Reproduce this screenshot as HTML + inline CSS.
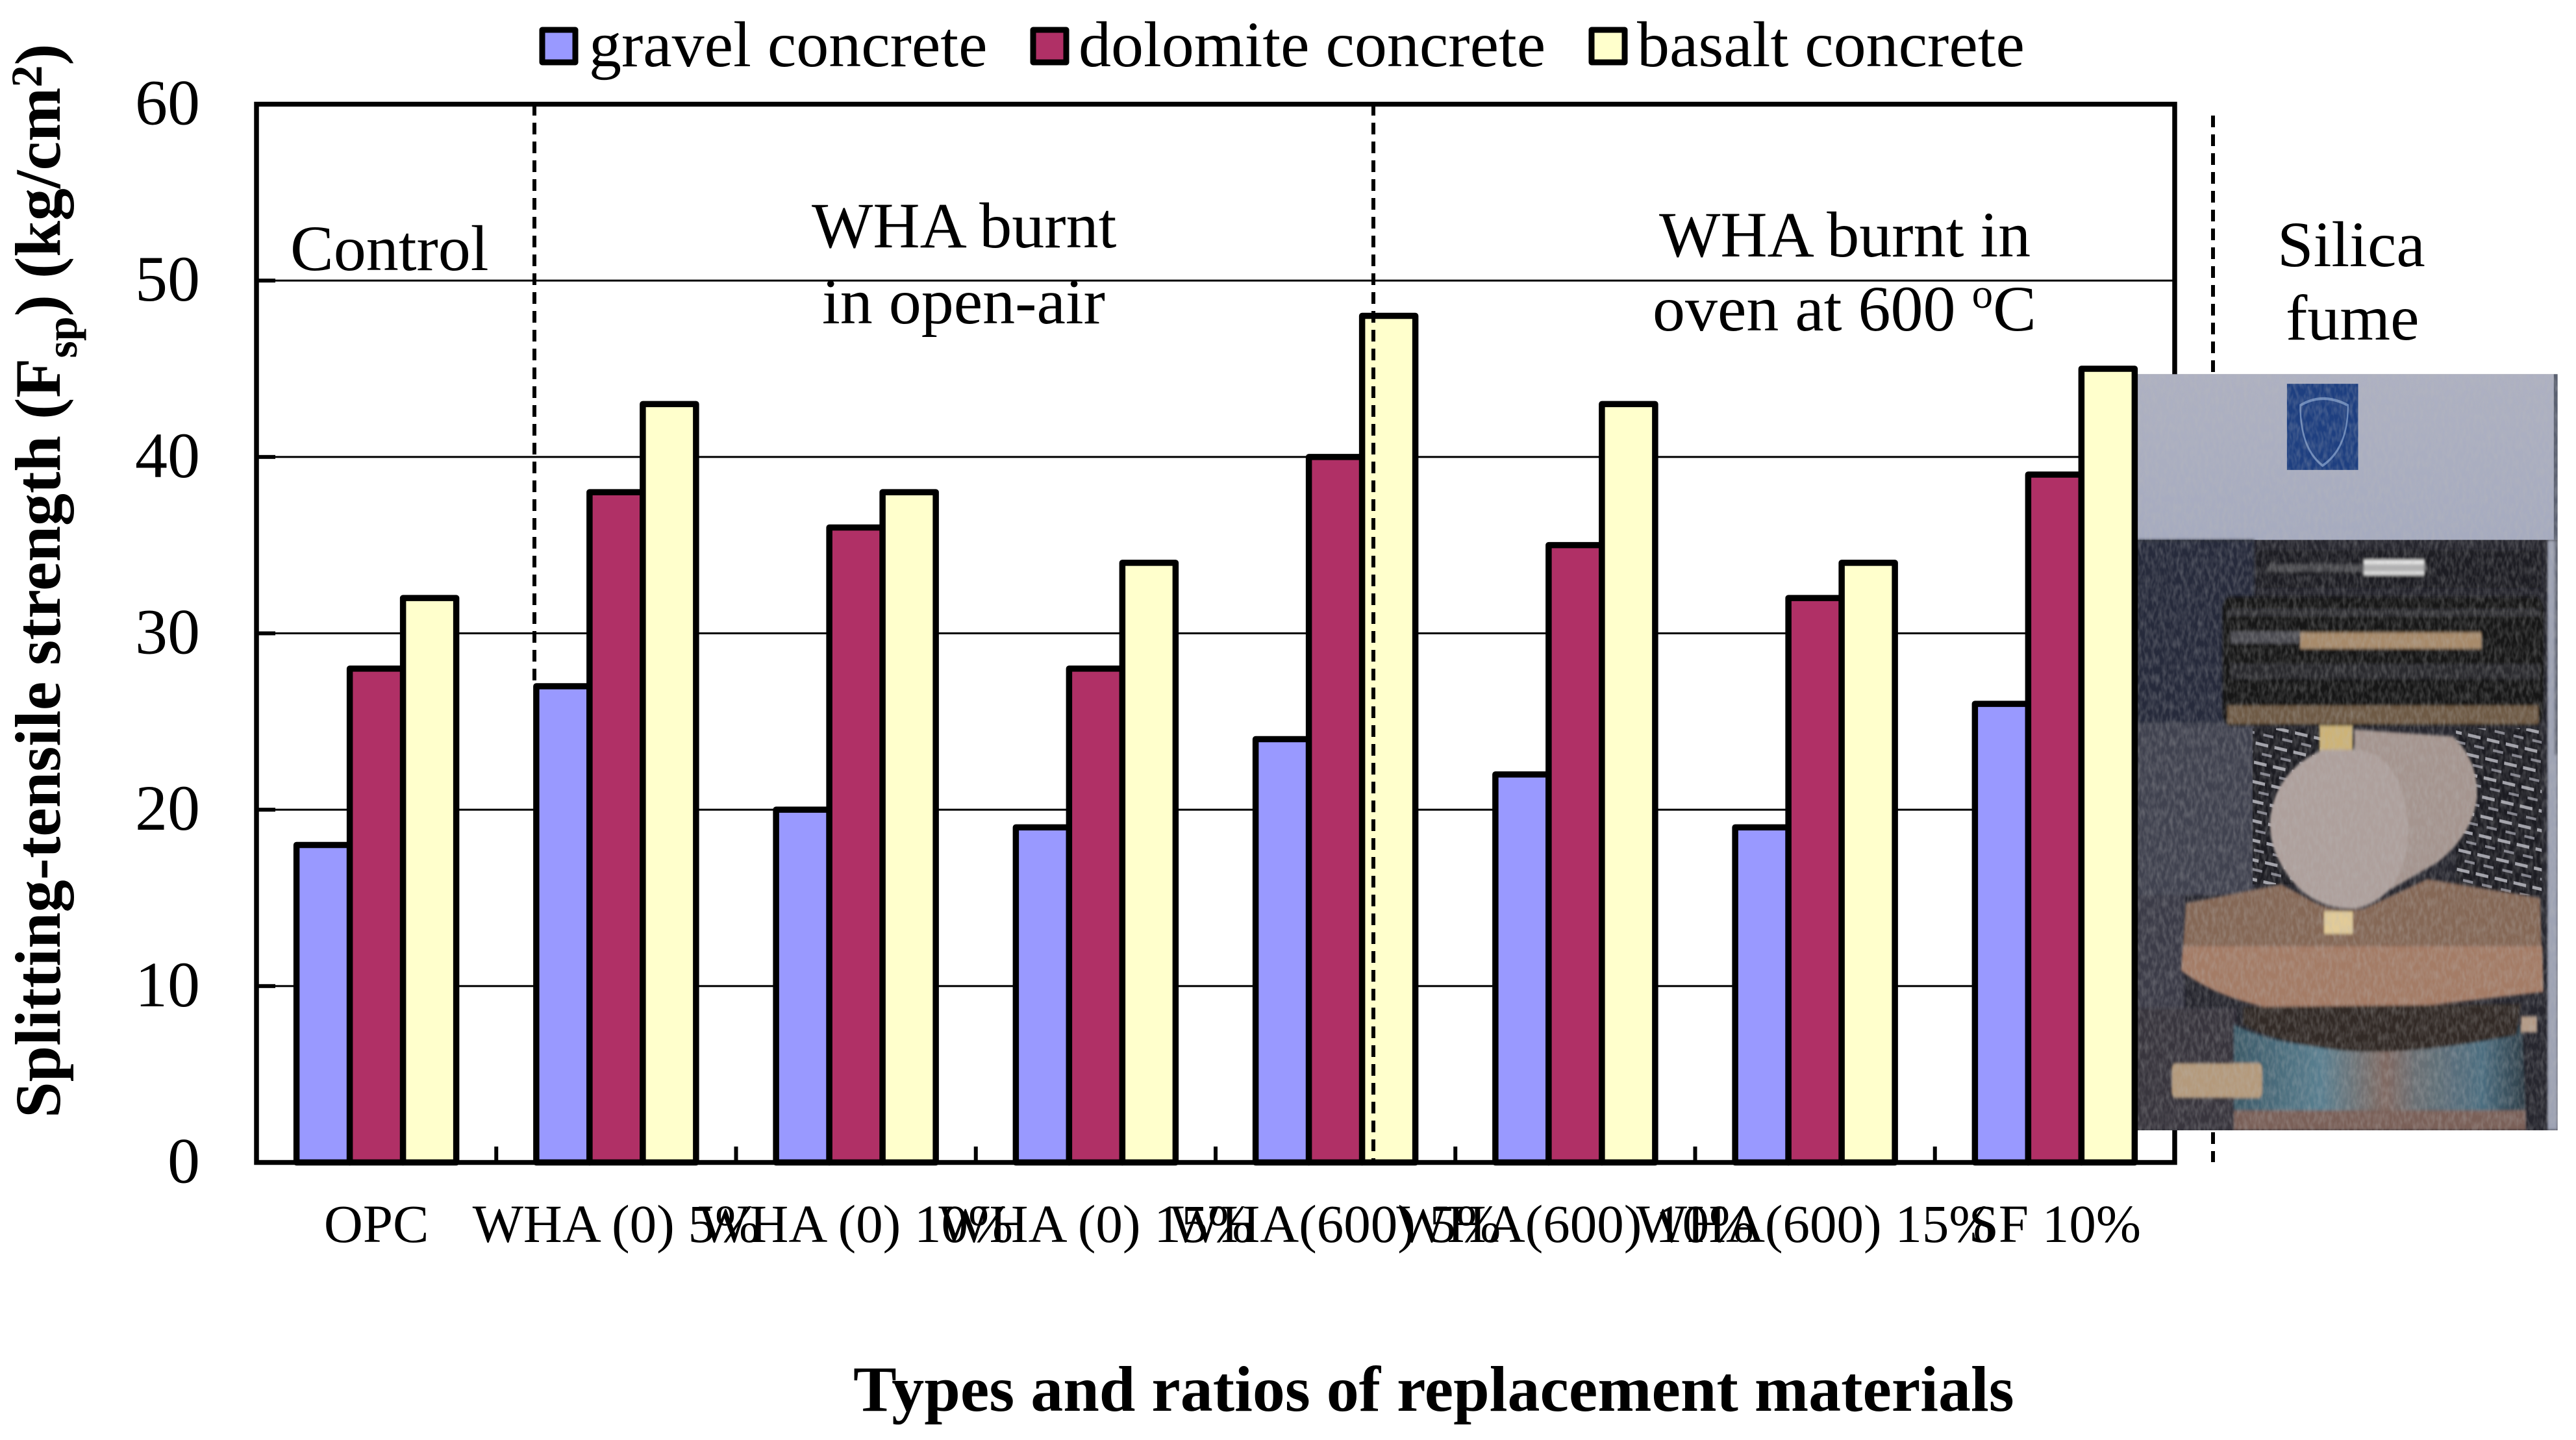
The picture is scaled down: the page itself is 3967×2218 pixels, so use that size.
<!DOCTYPE html>
<html lang="en">
<head>
<meta charset="utf-8">
<title>Splitting-tensile strength chart</title>
<style>
html,body{margin:0;padding:0;background:#fff;}
svg{display:block;}
text{font-family:"Liberation Serif","Times New Roman",serif;fill:#000;}
</style>
</head>
<body>
<svg id="chart" xmlns="http://www.w3.org/2000/svg" width="3967" height="2218" viewBox="0 0 3967 2218">
  <defs>
    <pattern id="mesh" width="60" height="36" patternUnits="userSpaceOnUse" patternTransform="rotate(8)">
      <rect width="60" height="36" fill="#1c1c22"/>
      <rect x="2" y="5" width="40" height="6" fill="#a2a2aa"/>
      <rect x="24" y="23" width="32" height="5" fill="#82828c"/>
    </pattern>
    <linearGradient id="panelGrad" x1="0" y1="0" x2="0" y2="1">
      <stop offset="0" stop-color="#aeb1c2"/>
      <stop offset="1" stop-color="#a6abbf"/>
    </linearGradient>
    <linearGradient id="drumGrad" x1="0" y1="0" x2="1" y2="0">
      <stop offset="0" stop-color="#3c5a68"/>
      <stop offset="0.3" stop-color="#5a7f90"/>
      <stop offset="0.52" stop-color="#806a62"/>
      <stop offset="0.62" stop-color="#6b6f74"/>
      <stop offset="0.85" stop-color="#4c6e80"/>
      <stop offset="1" stop-color="#2d3c46"/>
    </linearGradient>
    <filter id="soft" x="-5%" y="-5%" width="110%" height="110%"><feGaussianBlur stdDeviation="3"/></filter>
    <filter id="grain" x="0" y="0" width="100%" height="100%">
      <feTurbulence type="fractalNoise" baseFrequency="0.09 0.06" numOctaves="2" seed="7"/>
      <feColorMatrix type="matrix" values="0 0 0 0 0.5  0 0 0 0 0.5  0 0 0 0 0.5  1.6 0 0 0 -0.55"/>
    </filter>
    <clipPath id="photoClip"><rect x="185" y="92" width="1325" height="1405"/></clipPath>
  </defs>

  <g id="grid"></g>
  <rect x="395" y="160.5" width="2954" height="1630" fill="none" stroke="#000" stroke-width="7.5"/>
  <g id="yticks"></g>
  <g id="xticks"></g>

  <line x1="823" y1="160" x2="823" y2="1050" stroke="#000" stroke-width="6" stroke-dasharray="18 11"/>
  <line x1="3408" y1="178" x2="3408" y2="1790" stroke="#000" stroke-width="6" stroke-dasharray="18 11"/>

  <g transform="translate(3200,500) scale(0.4892,0.829)">
    <g clip-path="url(#photoClip)">
      <rect x="185" y="92" width="1325" height="1405" fill="#26262e"/>
      <rect x="185" y="92" width="1325" height="308" fill="url(#panelGrad)"/>
      <rect x="1498" y="92" width="12" height="308" fill="#5a6070"/>
      <rect x="658" y="110" width="224" height="160" fill="#1e3f80"/>
      <path d="M 700 150 Q 770 125 850 150 Q 850 230 770 262 Q 700 230 700 150 Z" fill="none" stroke="#6a88ba" stroke-width="5"/>
      <g filter="url(#soft)">
        <rect x="185" y="400" width="370" height="340" fill="#252b3a"/>
        <rect x="185" y="740" width="370" height="320" fill="#3f4350"/>
        <rect x="185" y="1060" width="150" height="230" fill="#3b3b46"/>
        <rect x="185" y="1270" width="310" height="227" fill="#37353e"/>
        <rect x="1478" y="400" width="32" height="1097" fill="#9ea3b4"/>
        <rect x="1500" y="400" width="10" height="400" fill="#6a6f7e"/>
        <rect x="560" y="420" width="900" height="70" fill="#1a1a20"/>
        <rect x="900" y="437" width="190" height="28" fill="#e8e8e8"/>
        <rect x="600" y="445" width="500" height="14" fill="#77777a" opacity="0.5"/>
      </g>
      <rect x="550" y="750" width="220" height="290" fill="url(#mesh)"/>
      <rect x="1190" y="750" width="270" height="310" fill="url(#mesh)"/>
      <g filter="url(#soft)">
        <rect x="455" y="505" width="1010" height="240" rx="25" fill="#141418"/>
        <rect x="470" y="528" width="985" height="14" fill="#303036"/>
        <rect x="700" y="572" width="570" height="30" fill="#a78a6a"/>
        <rect x="480" y="570" width="220" height="22" fill="#4d4d52"/>
        <rect x="480" y="630" width="975" height="28" fill="#2a2a2f"/>
        <rect x="470" y="708" width="980" height="34" fill="#6e5a44"/>
        <rect x="760" y="745" width="105" height="48" fill="#cdb377"/>
        <path d="M 870 752 L 1180 765 Q 1262 810 1256 880 Q 1240 950 1130 1000 L 880 1085 Q 780 1090 700 1050 Q 600 990 605 920 Q 620 830 770 790 L 870 790 Z" fill="#a5958f"/>
        <path d="M 770 790 Q 620 830 605 920 Q 600 990 700 1050 Q 780 1090 880 1085 Q 1040 1060 1040 930 Q 1020 800 880 790 Z" fill="#aea09c"/>
        <path d="M 340 1075 L 640 1040 L 720 1065 Q 800 1095 900 1085 L 1100 1030 L 1455 1065 L 1460 1165 L 330 1165 Z" fill="#856857"/>
        <path d="M 330 1155 L 1462 1155 L 1465 1240 L 1000 1272 L 620 1272 Q 430 1250 325 1200 Z" fill="#a47c66"/>
        <rect x="775" y="1090" width="90" height="42" fill="#e2cb98"/>
        <path d="M 490 1300 Q 800 1390 1400 1300 L 1410 1497 L 490 1497 Z" fill="url(#drumGrad)"/>
        <path d="M 520 1268 L 1395 1262 L 1380 1320 Q 1000 1365 780 1345 Q 600 1330 520 1300 Z" fill="#332b27"/>
        <rect x="1395" y="1285" width="50" height="30" fill="#b39a85"/>
        <rect x="490" y="1460" width="920" height="37" fill="#7a6058"/>
        <rect x="295" y="1372" width="285" height="65" rx="12" fill="#b49a7c"/>
      </g>
      <rect x="185" y="92" width="1325" height="1405" filter="url(#grain)" opacity="0.35"/>
    </g>
  </g>

  <g id="bars"></g>
  <line x1="2115" y1="160" x2="2115" y2="1790" stroke="#000" stroke-width="6" stroke-dasharray="18 11"/>

  <g id="ylabels" font-size="100" text-anchor="end"></g>
  <g id="xlabels" font-size="83" text-anchor="middle"></g>

  <g font-size="100">
    <g>
      <rect x="835" y="46" width="51" height="50" fill="#9999ff" stroke="#000" stroke-width="9" stroke-linejoin="round"/>
      <text x="907" y="102">gravel concrete</text>
    </g>
    <g>
      <rect x="1591" y="46" width="51" height="50" fill="#b03066" stroke="#000" stroke-width="9" stroke-linejoin="round"/>
      <text x="1661" y="102">dolomite concrete</text>
    </g>
    <g>
      <rect x="2451" y="46" width="51" height="50" fill="#ffffcc" stroke="#000" stroke-width="9" stroke-linejoin="round"/>
      <text x="2521" y="102">basalt concrete</text>
    </g>
  </g>

  <g font-size="100">
    <text x="447" y="416">Control</text>
    <text x="1250" y="381">WHA burnt</text>
    <text x="1266" y="498">in open-air</text>
    <text x="2555" y="395">WHA burnt in</text>
    <text x="2545" y="509">oven at 600 <tspan font-size="65" dy="-35">o</tspan><tspan dy="35">C</tspan></text>
    <text x="3507" y="410">Silica</text>
    <text x="3520" y="523">fume</text>
  </g>

  <text x="1314" y="2173" font-size="100" font-weight="bold">Types and ratios of replacement materials</text>
  <text transform="translate(92,1722) rotate(-90)" x="0" y="0" font-size="100" font-weight="bold">Splitting-tensile strength (F<tspan font-size="68" dy="26">sp</tspan><tspan dy="-26">) (kg/cm</tspan><tspan font-size="68" dy="-28">2</tspan><tspan dy="28">)</tspan></text>
</svg>

<script>
const categories = ["OPC","WHA (0) 5%","WHA (0) 10%","WHA (0) 15%","WHA(600) 5%","WHA(600) 10%","WHA(600) 15%","SF 10%"];
const gravelValues = [18,27,20,19,24,22,19,26];
const dolomiteValues = [28,38,36,28,40,35,32,39];
const basaltValues = [32,43,38,34,48,43,34,45];
const yTickValues = [0,10,20,30,40,50,60];
const seriesNames = ["gravel","dolomite","basalt"];

const NS = "http://www.w3.org/2000/svg";
const seriesValues = [gravelValues, dolomiteValues, basaltValues];
const seriesFills = ["#9999ff","#b03066","#ffffcc"];

function yScale(v){ return 1790.5 - v * (1630 / 60); }
function xBand(){ return 2954 / categories.length; }
function xCenter(i){ return 395 + xBand() * (i + 0.5); }
function barLeft(i, s){ return xCenter(i) + (s - 1.5) * 82; }
function make(tag){ return document.createElementNS(NS, tag); }

const grid = document.getElementById("grid");
const yticks = document.getElementById("yticks");
const ylabels = document.getElementById("ylabels");
yTickValues.forEach(function(t){
  const y = yScale(t);
  if (t !== 0 && t !== 60) {
    const g = make("rect");
    g.setAttribute("x", 395); g.setAttribute("y", y - 1.5);
    g.setAttribute("width", 2954); g.setAttribute("height", 3);
    g.setAttribute("fill", "#000");
    
    
    grid.appendChild(g);
    const m = make("rect");
    m.setAttribute("x", 395); m.setAttribute("y", y - 3);
    m.setAttribute("width", 29); m.setAttribute("height", 6);
    m.setAttribute("fill", "#000");
    
    
    yticks.appendChild(m);
  }
  const l = make("text");
  l.setAttribute("x", 308); l.setAttribute("y", y + 31);
  l.textContent = String(t);
  
  
  ylabels.appendChild(l);
});

const xticks = document.getElementById("xticks");
const xlabels = document.getElementById("xlabels");
categories.forEach(function(c, i){
  if (i > 0) {
    const m = make("rect");
    m.setAttribute("x", 395 + xBand() * i - 3); m.setAttribute("y", 1766);
    m.setAttribute("width", 6); m.setAttribute("height", 24);
    m.setAttribute("fill", "#000");
    
    
    xticks.appendChild(m);
  }
  const l = make("text");
  l.setAttribute("x", xCenter(i)); l.setAttribute("y", 1913);
  l.textContent = c;
  
  
  xlabels.appendChild(l);
});

const bars = document.getElementById("bars");
seriesValues.forEach(function(vals, s){
  vals.forEach(function(v, i){
    const r = make("rect");
    r.setAttribute("x", barLeft(i, s));
    r.setAttribute("y", yScale(v));
    r.setAttribute("width", 82);
    r.setAttribute("height", yScale(0) - yScale(v));
    r.setAttribute("fill", seriesFills[s]);
    r.setAttribute("stroke", "#000");
    r.setAttribute("stroke-width", 9.5);
    r.setAttribute("stroke-linejoin", "round");
    
    
    bars.appendChild(r);
  });
});
</script>
</body>
</html>
